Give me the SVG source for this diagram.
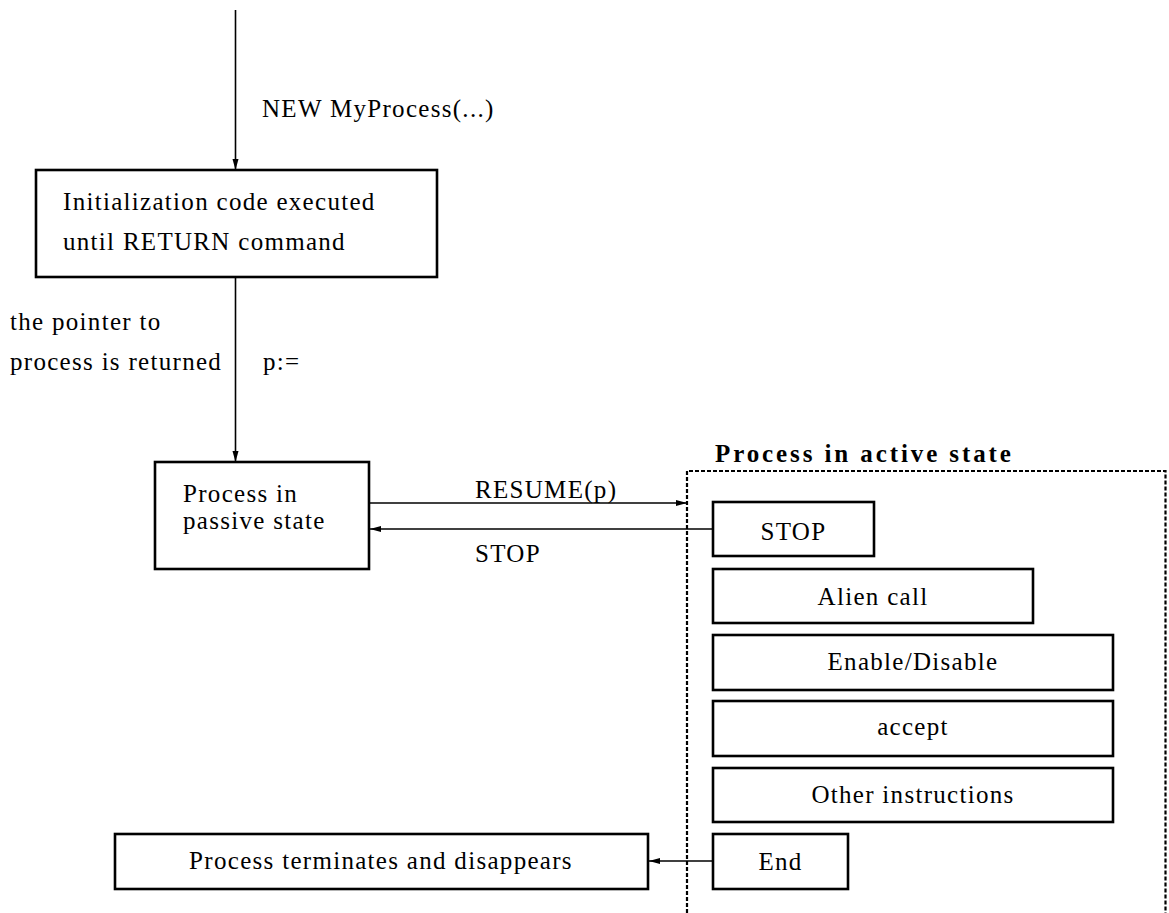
<svg xmlns="http://www.w3.org/2000/svg" width="1169" height="913" viewBox="0 0 1169 913" font-family="'Liberation Serif', 'DejaVu Serif', 'Times New Roman', serif">
<defs>
<style>
text{font-family:'Liberation Serif','DejaVu Serif','Times New Roman',serif;font-size:25px;letter-spacing:1.3px;fill:#000}
.b{font-weight:bold;letter-spacing:2.9px}
.c{text-anchor:middle}
.box{fill:#fff;stroke:#000;stroke-width:2.6}
.ln{fill:none;stroke:#000;stroke-width:1.6}
.dash{fill:none;stroke:#000;stroke-width:2.2;stroke-dasharray:4 2}
</style>
<marker id="ah" markerUnits="userSpaceOnUse" markerWidth="12" markerHeight="8" viewBox="0 0 12 8" refX="11" refY="4" orient="auto">
<path d="M0,1 L11,4 L0,7 Z" fill="#000"/>
</marker>
</defs>
<rect width="1169" height="913" fill="#fff"/>
<g id="connectors">
<line class="ln" x1="235.5" y1="10" x2="235.5" y2="170" marker-end="url(#ah)"/>
<line class="ln" x1="235.5" y1="277" x2="235.5" y2="462" marker-end="url(#ah)"/>
<line class="ln" x1="369" y1="503" x2="687" y2="503" marker-end="url(#ah)"/>
<line class="ln" x1="713" y1="529" x2="370" y2="529" marker-end="url(#ah)"/>
<line class="ln" x1="713" y1="861" x2="649" y2="861" marker-end="url(#ah)"/>
<text x="262" y="117">NEW MyProcess(...)</text>
<text x="263" y="370">p:=</text>
<text x="475" y="498">RESUME(p)</text>
<text x="475" y="562">STOP</text>
</g>
<g id="init">
<rect class="box" x="36" y="170" width="401" height="107"/>
<text x="63" y="210">Initialization code executed</text>
<text x="63" y="250">until RETURN command</text>
</g>
<g id="note">
<text x="10" y="330">the pointer to</text>
<text x="10" y="370">process is returned</text>
</g>
<g id="passive">
<rect class="box" x="155" y="462" width="214" height="107"/>
<text x="183" y="502">Process in</text>
<text x="183" y="529">passive state</text>
</g>
<g id="active">
<path class="dash" d="M687,913 L687,471 L1165.5,471 L1165.5,913"/>
<text class="b" x="715" y="462">Process in active state</text>
</g>
<g id="stop">
<rect class="box" x="713" y="502" width="161" height="54"/>
<text class="c" x="793.5" y="540">STOP</text>
</g>
<g id="alien">
<rect class="box" x="713" y="569" width="320" height="54"/>
<text class="c" x="873" y="605">Alien call</text>
</g>
<g id="enable">
<rect class="box" x="713" y="635" width="400" height="55"/>
<text class="c" x="913" y="670">Enable/Disable</text>
</g>
<g id="accept">
<rect class="box" x="713" y="701" width="400" height="55"/>
<text class="c" x="913" y="735">accept</text>
</g>
<g id="other">
<rect class="box" x="713" y="768" width="400" height="54"/>
<text class="c" x="913" y="803">Other instructions</text>
</g>
<g id="end">
<rect class="box" x="713" y="834" width="135" height="55"/>
<text class="c" x="780.5" y="870">End</text>
</g>
<g id="terminate">
<rect class="box" x="115" y="834" width="533" height="55"/>
<text class="c" x="381" y="869">Process terminates and disappears</text>
</g>
</svg>
